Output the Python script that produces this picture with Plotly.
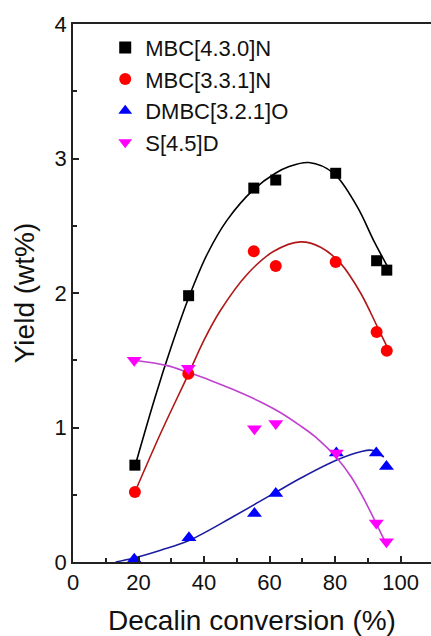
import plotly.graph_objects as go

# measured points
conv_black = [18.9, 35.3, 55.2, 61.9, 80.2, 92.7, 95.8]
yield_black = [0.72, 1.98, 2.78, 2.84, 2.89, 2.24, 2.17]
conv_red = [18.9, 35.2, 55.2, 61.9, 80.2, 92.7, 95.8]
yield_red = [0.52, 1.40, 2.31, 2.20, 2.23, 1.71, 1.57]
conv_blue = [18.7, 35.4, 55.4, 61.9, 80.4, 92.6, 95.7]
yield_blue = [0.02, 0.18, 0.36, 0.51, 0.81, 0.81, 0.71]
conv_mag = [18.7, 35.2, 55.4, 61.9, 80.4, 92.6, 95.7]
yield_mag = [1.50, 1.44, 0.99, 1.03, 0.81, 0.29, 0.15]

# fitted curves
fit_black_x = [18.9, 25.0, 30.0, 35.4, 41.0, 47.0, 55.2, 61.8, 66.0, 72.0, 79.6, 86.8, 91.8, 96.4]
fit_black_y = [0.71, 1.22, 1.60, 1.97, 2.29, 2.54, 2.77, 2.89, 2.94, 2.97, 2.89, 2.64, 2.39, 2.18]
fit_red_x = [18.9, 27.0, 35.1, 40.0, 45.0, 53.2, 61.3, 69.5, 75.6, 81.7, 87.8, 92.9, 95.9]
fit_red_y = [0.52, 0.97, 1.39, 1.65, 1.87, 2.14, 2.31, 2.38, 2.34, 2.22, 2.00, 1.75, 1.60]
fit_blue_x = [13.0, 18.6, 27.0, 35.4, 49.1, 61.3, 70.0, 80.7, 87.8, 91.4, 94.9]
fit_blue_y = [0.00, 0.03, 0.09, 0.16, 0.34, 0.51, 0.63, 0.76, 0.82, 0.83, 0.78]
fit_mag_x = [18.6, 28.8, 35.1, 42.0, 49.1, 57.3, 63.4, 69.0, 74.0, 80.7, 85.0, 89.0, 92.9, 95.9]
fit_mag_y = [1.50, 1.46, 1.41, 1.35, 1.28, 1.19, 1.11, 1.02, 0.93, 0.77, 0.63, 0.46, 0.27, 0.12]

names = ["MBC[4.3.0]N", "MBC[3.3.1]N", "DMBC[3.2.1]O", "S[4.5]D"]

fig = go.Figure()
fits = [(fit_black_x, fit_black_y, "#000000"),
        (fit_red_x, fit_red_y, "#b01818"),
        (fit_blue_x, fit_blue_y, "#1c1ca0"),
        (fit_mag_x, fit_mag_y, "#c040d0")]
for fx, fy, c in fits:
    fig.add_trace(go.Scatter(x=fx, y=fy, mode="lines", line=dict(color=c, width=1.6, shape="spline", smoothing=1.0),
                             showlegend=False, hoverinfo="skip"))

pts = [(conv_black, yield_black, "#000000", "square", 11),
       (conv_red, yield_red, "#ff0000", "circle", 12),
       (conv_blue, yield_blue, "#0000ff", "triangle-up", 13),
       (conv_mag, yield_mag, "#ff00ff", "triangle-down", 13)]
for (px, py, c, sym, sz), nm in zip(pts, names):
    fig.add_trace(go.Scatter(x=px, y=py, mode="markers", name=nm,
                             marker=dict(color=c, symbol=sym, size=sz, line=dict(width=0))))

fig.update_layout(
    width=431, height=636,
    margin=dict(l=73, r=0, t=24, b=74),
    paper_bgcolor="white", plot_bgcolor="white",
    font=dict(family="Liberation Sans, Arial, sans-serif", color="#111111"),
    legend=dict(x=0.09, y=0.995, xanchor="left", yanchor="top", font=dict(size=22),
                bgcolor="rgba(0,0,0,0)", tracegroupgap=0, itemsizing="constant"),
    xaxis=dict(range=[0, 109.3], tickvals=[0, 20, 40, 60, 80, 100], ticks="inside", ticklen=6, tickwidth=1.5,
               tickcolor="#222", showline=True, linecolor="#222", linewidth=1.5, mirror=True, showgrid=False,
               zeroline=False, tickfont=dict(size=22),
               minor=dict(tickvals=[10, 30, 50, 70, 90], ticks="inside", ticklen=4, tickwidth=1.5, tickcolor="#222"),
               title=dict(text="Decalin conversion (%)", font=dict(size=28), standoff=16)),
    yaxis=dict(range=[0, 4], tickvals=[0, 1, 2, 3, 4], ticks="inside", ticklen=6, tickwidth=1.5,
               tickcolor="#222", showline=True, linecolor="#222", linewidth=1.5, showgrid=False,
               zeroline=False, tickfont=dict(size=22),
               minor=dict(tickvals=[0.5, 1.5, 2.5, 3.5], ticks="inside", ticklen=4, tickwidth=1.5, tickcolor="#222"),
               title=dict(text="Yield (wt%)", font=dict(size=28), standoff=12)),
)
fig.write_html("out.html")
